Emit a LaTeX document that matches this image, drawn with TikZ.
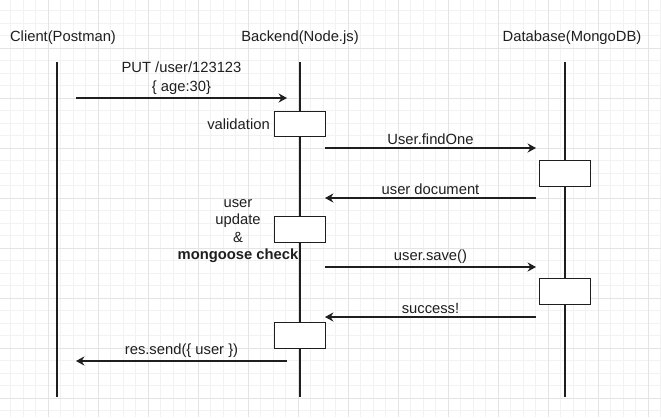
\documentclass[tikz,border=0pt]{standalone}
\usepackage{fontspec}
\setmainfont{Liberation Sans}
\usetikzlibrary{arrows.meta, positioning}
\definecolor{ink}{HTML}{1E1E1E}
\definecolor{gridminor}{HTML}{F2F2F2}
\definecolor{gridmajor}{HTML}{E4E4E4}
\tikzset{
    % participant name above its lifeline
    head/.style={font=\fontsize{10.5}{12.6}\selectfont, text=ink, inner sep=0pt},
    % vertical lifeline
    life/.style={draw=ink, line width=0.9pt},
    % activation box sitting on a lifeline
    act/.style={draw=ink, fill=white, line width=0.8pt, inner sep=0pt,
        minimum width=1.26cm, minimum height=0.63cm},
    % message arrows between lifelines
    msg/.style={draw=ink, line width=0.8pt,
        -{Stealth[length=6pt, width=6.5pt, inset=2pt]}},
    % message names on the arrows
    wire/.style={font=\fontsize{10.5}{13.5}\selectfont, text=ink,
        inner sep=2pt, align=center},
    % notes beside an activation box
    note/.style={font=\fontsize{10.5}{12.4}\selectfont, text=ink,
        inner sep=2pt, align=center},
    % canvas grid
    minorline/.style={draw=gridminor, line width=0.4pt},
    majorline/.style={draw=gridmajor, line width=0.5pt},
}

\begin{document}
\begin{tikzpicture}[x=0.025cm, y=-0.025cm]

    \useasboundingbox (0,0) rectangle (661,417);

    % ---- background grid ----
    \foreach \g in {10.5,23,...,661}{ \draw[minorline] (\g,0) -- (\g,417); }
    \foreach \g in {10.5,23,...,417}{ \draw[minorline] (0,\g) -- (661,\g); }
    \foreach \g in {48,98,...,661}{ \draw[majorline] (\g,0) -- (\g,417); }
    \foreach \g in {48,98,...,417}{ \draw[majorline] (0,\g) -- (661,\g); }

    % ---- participants ----
    \node[head] (client)  at (63,38)  {Client(Postman)};
    \node[head] (backend) at (300,38) {Backend(Node.js)};
    \node[head] (db)      at (572,38) {Database(MongoDB)};

    \coordinate (c0) at (57,62);  \coordinate (c1) at (57,397);
    \coordinate (b0) at (300,62); \coordinate (b1) at (300,397);
    \coordinate (d0) at (565,62); \coordinate (d1) at (565,397);
    \foreach \t/\b in {c0/c1,b0/b1,d0/d1}{ \draw[life] (\t) -- (\b); }

    % ---- activation boxes ----
    \node[act] (valid)  at (300,124)   {};
    \node[act] (update) at (300,229.5) {};
    \node[act] (reply)  at (300,335.5) {};
    \node[act] (find)   at (565,173.5) {};
    \node[act] (save)   at (565,291.5) {};

    \node[note, left=1pt of valid] (validtxt) {validation};
    \node[note] (updatetxt) at (238,231)
        {user\\update\\\&\\\textbf{mongoose check}};

    % ---- messages ----
    \coordinate (put0)  at (76,98);   \coordinate (put1)  at (287,98);
    \coordinate (find0) at (325,148); \coordinate (find1) at (536,148);
    \coordinate (doc0)  at (536,198); \coordinate (doc1)  at (325,198);
    \coordinate (save0) at (325,267); \coordinate (save1) at (536,267);
    \coordinate (ok0)   at (536,317); \coordinate (ok1)   at (325,317);
    \coordinate (res0)  at (287,361); \coordinate (res1)  at (76,361);

    \draw[msg] (put0) -- (put1)
        node[wire, midway, above] {PUT /user/123123\\\{ age:30\}};
    \draw[msg] (find0) -- (find1) node[wire, midway, above] {User.findOne};
    \draw[msg] (doc0) -- (doc1) node[wire, midway, above] {user document};
    \draw[msg] (save0) -- (save1) node[wire, midway, above] {user.save()};
    \draw[msg] (ok0) -- (ok1) node[wire, midway, above] {success!};
    \draw[msg] (res0) -- (res1)
        node[wire, midway, above] {res.send(\{ user \})};

\end{tikzpicture}
\end{document}
